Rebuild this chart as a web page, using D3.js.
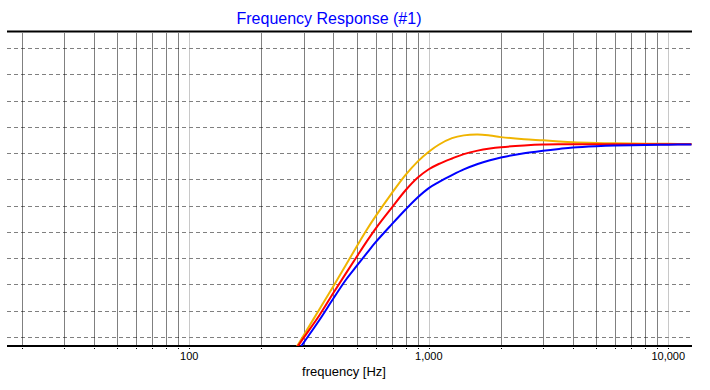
<!DOCTYPE html>
<html><head><meta charset="utf-8">
<script src="https://cdn.jsdelivr.net/npm/d3@7"></script>
<style>body{margin:0;background:#fff}svg{display:block}</style>
</head><body>
<svg id="c" width="710" height="390"></svg>
<script>
const titleText = "Frequency Response (#1)";
const xLabel = "frequency [Hz]";
const freqs = [270,300,350,400,450,500,550,600,700,800,900,1000,1100,1250,1400,1600,1800,2000,2500,3000,3500,4000,5000,6000,8000,10000,12500];
const seriesOrange = [-34.9,-32.83,-29.80,-27.18,-24.82,-22.66,-20.78,-19.20,-16.60,-14.50,-12.95,-11.85,-11.05,-10.30,-9.98,-9.88,-10.00,-10.18,-10.42,-10.55,-10.68,-10.77,-10.85,-10.89,-10.93,-10.95,-10.96];
const seriesRed = [-34.9,-33.11,-30.49,-27.95,-25.77,-23.84,-22.11,-20.62,-18.25,-16.25,-14.80,-13.85,-13.25,-12.62,-12.12,-11.72,-11.48,-11.33,-11.13,-11.02,-10.99,-10.99,-10.99,-10.99,-10.99,-10.99,-10.99];
const seriesBlue = [-35.47,-33.67,-31.03,-28.58,-26.49,-24.89,-23.46,-22.18,-20.15,-18.45,-17.05,-16.00,-15.32,-14.52,-13.87,-13.25,-12.82,-12.50,-12.03,-11.74,-11.53,-11.37,-11.22,-11.14,-11.08,-11.04,-11.03];
const minorFreqs = [20,30,40,50,60,70,80,90,200,300,400,500,600,700,800,900,2000,3000,4000,5000,6000,7000,8000,9000];
const decadeFreqs = [100,1000,10000];
const xTickLabels = ["100","1,000","10,000"];
const yGrid = [-33,-30,-27,-24,-21,-18,-15,-12,-9,-6,-3,0];

const svg = d3.select("#c");
const L=7, R=692, T=31.5, B=346;
const x = d3.scaleLog().domain([17.33,12560]).range([L,R]);
const y = d3.scaleLinear().domain([-34.03,1.88]).range([B,T]);

svg.append("defs").append("clipPath").attr("id","clip")
  .append("rect").attr("x",L).attr("y",T).attr("width",R-L).attr("height",B-T);

// horizontal grid
svg.append("g").selectAll("line").data(yGrid).join("line")
  .attr("x1",L).attr("x2",R).attr("y1",d=>Math.round(y(d))+0.5).attr("y2",d=>Math.round(y(d))+0.5)
  .attr("stroke","#808080").attr("stroke-dasharray","4,3").attr("stroke-width",1);

// vertical grid
svg.append("g").selectAll("line").data(minorFreqs).join("line")
  .attr("x1",d=>Math.round(x(d))+0.5).attr("x2",d=>Math.round(x(d))+0.5)
  .attr("y1",T+2).attr("y2",B).attr("stroke","#000").attr("stroke-dasharray","1,1");
svg.append("g").selectAll("line").data(decadeFreqs).join("line")
  .attr("x1",d=>Math.round(x(d))+0.5).attr("x2",d=>Math.round(x(d))+0.5)
  .attr("y1",T+2).attr("y2",B).attr("stroke","#909090").attr("stroke-dasharray","1,1");

// ticks below axis
svg.append("g").selectAll("line").data(minorFreqs.concat(decadeFreqs)).join("line")
  .attr("x1",d=>Math.round(x(d))+0.5).attr("x2",d=>Math.round(x(d))+0.5)
  .attr("y1",B).attr("y2",B+4).attr("stroke","#000").attr("stroke-dasharray","1,1");

// borders
svg.append("line").attr("x1",L).attr("x2",R).attr("y1",31.5).attr("y2",31.5).attr("stroke","#000").attr("stroke-width",2);
svg.append("line").attr("x1",L).attr("x2",R).attr("y1",346).attr("y2",346).attr("stroke","#000").attr("stroke-width",2);

// tick labels
svg.append("g").selectAll("text").data(decadeFreqs).join("text")
  .attr("x",d=>x(d)).attr("y",360).attr("text-anchor","middle")
  .attr("font-family","Liberation Sans, Arial, sans-serif").attr("font-size",11).attr("fill","#000")
  .text((d,i)=>xTickLabels[i]);

svg.append("text").attr("x",344).attr("y",375.5).attr("text-anchor","middle")
  .attr("font-family","Liberation Sans, Arial, sans-serif").attr("font-size",13).attr("fill","#000").text(xLabel);

svg.append("text").attr("x",329).attr("y",24).attr("text-anchor","middle")
  .attr("font-family","Liberation Sans, Arial, sans-serif").attr("font-size",16).attr("fill","#0000ff").text(titleText);

const line = d3.line().x(d=>x(d[0])).y(d=>y(d[1])).curve(d3.curveCatmullRom.alpha(0.5));
const series = [[seriesOrange,"#f0b400"],[seriesRed,"#ff0000"],[seriesBlue,"#0000ff"]];
const g = svg.append("g").attr("clip-path","url(#clip)");
series.forEach(([vals,col])=>{
  g.append("path").datum(freqs.map((f,i)=>[f,vals[i]]))
   .attr("d",line).attr("fill","none").attr("stroke",col).attr("stroke-width",2);
});
</script>
</body></html>
